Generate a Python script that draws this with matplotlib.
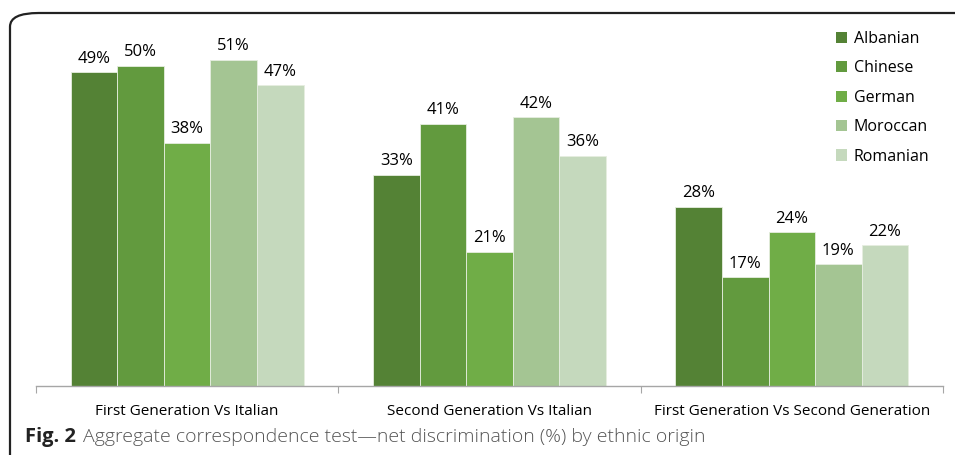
import numpy as np
import matplotlib.pyplot as plt
from matplotlib.patches import FancyBboxPatch, Patch

plt.rcParams['font.family'] = ['Open Sans', 'DejaVu Sans']

# data
categories = ['First Generation Vs Italian', 'Second Generation Vs Italian',
              'First Generation Vs Second Generation']
origins = ['Albanian', 'Chinese', 'German', 'Moroccan', 'Romanian']
albanian = [49, 33, 28]
chinese = [50, 41, 17]
german = [38, 21, 24]
moroccan = [51, 42, 19]
romanian = [47, 36, 22]
series = [albanian, chinese, german, moroccan, romanian]
colors = ['#548235', '#629a3e', '#70ad47', '#a4c593', '#c5d9bd']

W, H = 955, 455
fig = plt.figure(figsize=(W / 100, H / 100), dpi=100)

# rounded frame
frame = FancyBboxPatch((10 / W, -0.2), 1.2, 1 - 13 / H + 0.2,
                       boxstyle='round,pad=0,rounding_size=0.03',
                       transform=fig.transFigure, fill=False,
                       edgecolor='#222222', linewidth=1.6, clip_on=False)
fig.patches.append(frame)

ax = fig.add_axes([36 / W, (H - 386) / H, 907 / W, 366 / H])
x = np.arange(len(categories))
bw = 0.154
for i, (vals, col, name) in enumerate(zip(series, colors, origins)):
    pos = x + (i - 2) * bw
    ax.bar(pos, vals, width=bw, color=col, edgecolor='#e6eee0',
           linewidth=0.6, label=name, zorder=2)
    for p, v in zip(pos, vals):
        ax.annotate('{}%'.format(v), (p, v), xytext=(0, 4),
                    textcoords='offset points', ha='center', va='bottom',
                    fontsize=12, color='#000000')

ax.set_xlim(-0.5, 2.5)
ax.set_ylim(0, 366 / 6.4)
ax.set_yticks([])
for s in ['top', 'right', 'left']:
    ax.spines[s].set_visible(False)
ax.spines['bottom'].set_color('#a6a6a6')
ax.spines['bottom'].set_linewidth(1)
ax.set_xticks([-0.5, 0.5, 1.5, 2.5])
ax.set_xticklabels([])
ax.tick_params(axis='x', direction='out', length=5, color='#a6a6a6')
ax.set_xticks(x, minor=True)
ax.set_xticklabels(categories, minor=True, fontsize=11, color='#000000')
ax.tick_params(axis='x', which='minor', length=0, pad=13)

handles = [Patch(facecolor=c, label=n) for c, n in zip(colors, origins)]
fig.legend(handles=handles, loc='upper left', bbox_to_anchor=(828 / W, 1 - 23 / H),
           frameon=False, fontsize=11.5, handlelength=0.7, handleheight=0.7,
           handletextpad=0.4, labelspacing=0.84, borderpad=0)

# caption
fig.text(25 / W, 1 - 437 / H, 'Fig. 2', fontsize=14.5, fontweight='bold',
         color='#222222', va='center')
fig.text(83 / W, 1 - 437 / H,
         'Aggregate correspondence test\u2014net discrimination (%) by ethnic origin',
         fontsize=14, color='#555555', va='center', fontweight='light')

fig.savefig('out.png', dpi=100)
